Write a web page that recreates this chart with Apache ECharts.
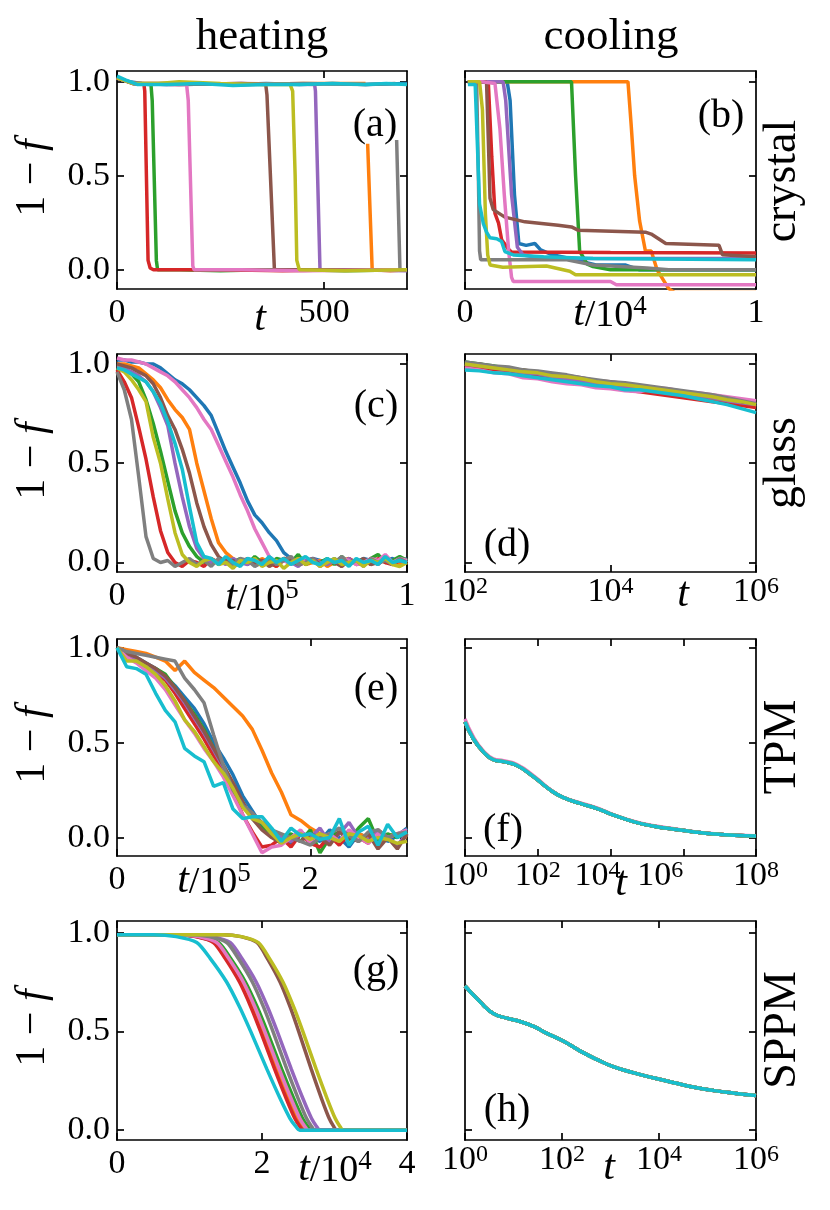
<!DOCTYPE html>
<html><head><meta charset="utf-8">
<script src="https://cdn.jsdelivr.net/npm/echarts@6/dist/echarts.min.js"></script>
<style>html,body{margin:0;padding:0;background:#fff}#c{width:830px;height:1210px}</style>
</head><body><div id="c"></div>
<script>
// ---------- tick labels ----------
const yTicks = [0, 0.5, 1];
const aXTicks = [0, 500];
const bXTicks = [0, 1];
const cXTicks = [0, 1];
const dXTicks = [1e2, 1e4, 1e6];
const eXTicks = [0, 2];
const fXTicks = [1, 1e2, 1e4, 1e6, 1e8];
const gXTicks = [0, 2, 4];
const hXTicks = [1, 1e2, 1e4, 1e6];

// ---------- (a) crystal heating: [t, 1-f] ----------
const aBlue = [[0,1.02],[30,1.0],[60,0.99],[120,0.985],[200,0.99],[280,0.985],[360,0.99],[440,0.985],[520,0.99],[600,0.985],[700,0.99]];
const aOrange = [[0,1.02],[40,0.99],[150,0.99],[300,0.985],[450,0.99],[600,0.99],[603,null],[605,0.67],[616,0.0],[660,-0.005],[700,0.0]];
const aGreen = [[0,1.02],[40,0.99],[82,0.985],[85,0.9],[95,0.05],[98,0.0],[150,0.0],[250,-0.005],[350,0.0],[450,0.0],[550,-0.005],[700,0.0]];
const aRed = [[0,1.02],[40,0.99],[65,0.985],[67,0.95],[75,0.05],[80,0.01],[88,0.0],[150,0.0],[250,0.0],[400,-0.005],[550,0.0],[700,0.0]];
const aPurple = [[0,1.02],[40,0.99],[150,0.985],[300,0.99],[477,0.985],[479,0.95],[490,0.0],[550,0.0],[700,-0.005]];
const aBrown = [[0,1.02],[40,0.99],[150,0.985],[300,0.99],[359,0.985],[362,0.93],[380,0.0],[500,0.0],[700,0.0]];
const aPink = [[0,1.02],[40,0.99],[120,0.985],[168,0.985],[172,0.9],[183,0.02],[186,0.0],[300,0.0],[450,-0.005],[700,0.0]];
const aGray = [[0,1.02],[40,0.99],[150,0.99],[300,0.985],[450,0.99],[600,0.985],[672,0.99],[673,null],[675,0.69],[683,0.0],[700,0.0]];
const aOlive = [[0,1.02],[40,0.99],[100,0.99],[150,1.0],[250,0.99],[350,0.985],[418,0.985],[424,0.95],[430,0.5],[434,0.05],[440,0.0],[550,-0.005],[700,0.0]];
const aCyan = [[0,1.03],[20,1.01],[50,0.985],[120,0.985],[200,0.99],[280,0.98],[360,0.985],[440,0.985],[520,0.99],[600,0.985],[650,0.99],[700,0.985]];

// ---------- (b) crystal cooling: [t/1e4, 1-f] ----------
const bBlue = [[0.01,1.0],[0.145,1.0],[0.155,0.9],[0.17,0.4],[0.185,0.14],[0.21,0.13],[0.24,0.14],[0.26,0.106],[0.3,0.08],[0.36,0.06],[0.4,0.045],[0.45,0.026],[0.55,0.026],[0.6,0.0],[1.0,0.0]];
const bOrange = [[0.01,1.0],[0.3,1.0],[0.45,1.0],[0.56,1.0],[0.571,0.77],[0.583,0.5],[0.6,0.26],[0.62,0.1],[0.64,0.1],[0.66,0.0],[0.7,-0.1],[0.72,-0.12],[1.0,-0.12]];
const bGreen = [[0.01,1.0],[0.2,1.0],[0.366,1.0],[0.38,0.5],[0.394,0.1],[0.42,0.03],[0.44,0.017],[0.5,0.0],[1.0,0.0]];
const bRed = [[0.01,1.0],[0.08,1.0],[0.092,0.6],[0.103,0.3],[0.115,0.25],[0.126,0.16],[0.149,0.11],[0.16,0.095],[0.5,0.092],[1.0,0.09]];
const bPurple = [[0.01,1.0],[0.131,1.0],[0.14,0.9],[0.16,0.4],[0.18,0.12],[0.2,0.079],[0.25,0.065],[0.4,0.06],[1.0,0.06]];
const bBrown = [[0.01,1.0],[0.074,1.0],[0.08,0.7],[0.086,0.38],[0.097,0.32],[0.137,0.28],[0.206,0.255],[0.32,0.237],[0.366,0.228],[0.39,0.21],[0.62,0.2],[0.64,0.19],[0.69,0.14],[0.873,0.13],[0.885,0.08],[1.0,0.07]];
const bPink = [[0.01,1.0],[0.06,1.0],[0.103,0.99],[0.12,0.75],[0.135,0.4],[0.15,0.1],[0.16,-0.04],[0.166,-0.062],[0.5,-0.062],[0.52,-0.079],[1.0,-0.079]];
const bGray = [[0.01,1.0],[0.04,1.0],[0.046,0.5],[0.05,0.1],[0.054,0.053],[0.35,0.053],[0.44,0.026],[0.625,0.01],[0.7,0.0],[1.0,0.0]];
const bOlive = [[0.01,1.0],[0.05,1.0],[0.06,0.85],[0.07,0.3],[0.078,0.08],[0.086,0.026],[0.13,0.014],[0.28,0.02],[0.36,-0.008],[0.38,-0.026],[1.0,-0.026]];
const bCyan = [[0.01,0.985],[0.035,0.985],[0.05,0.35],[0.063,0.245],[0.074,0.2],[0.086,0.17],[0.109,0.165],[0.126,0.15],[0.137,0.097],[0.166,0.079],[0.27,0.07],[0.44,0.06],[1.0,0.053]];

// ---------- (c) glass heating: t/1e5 grid and 1-f ----------
const cT = [0,0.025,0.05,0.075,0.1,0.125,0.15,0.175,0.2,0.225,0.25,0.275,0.3,0.325,0.35,0.375,0.4,0.425,0.45,0.475,0.5,0.525,0.55,0.575,0.6,0.625,0.65,0.675,0.7,0.725,0.75,0.775,0.8,0.825,0.85,0.875,0.9,0.925,0.95,0.975,1.0];
const cBlue = [1.02,1.02,1.01,1.01,1.0,1.0,0.98,0.95,0.92,0.9,0.87,0.83,0.79,0.74,0.65,0.56,0.48,0.4,0.31,0.24,0.2,0.15,0.11,0.05,0.02,0.01,0.0,0.02,0.01,0.0,0.02,-0.01,0.01,0.0,0.02,0.01,0.0,0.01,0.02,0.0,0.02];
const cOrange = [1.0,1.0,0.99,0.98,0.95,0.92,0.88,0.82,0.77,0.73,0.67,0.5,0.36,0.22,0.1,0.05,0.02,0.0,0.01,-0.01,0.02,0.0,-0.02,0.01,0.0,0.02,-0.01,0.0,0.01,-0.02,0.0,0.01,0.02,-0.01,0.0,0.01,-0.01,0.02,0.0,-0.01,0.01];
const cGreen = [0.98,0.97,0.95,0.91,0.82,0.70,0.56,0.41,0.26,0.15,0.08,0.03,0.0,0.02,-0.01,0.01,0.0,0.02,-0.01,0.03,0.0,-0.01,0.02,0.01,0.0,0.04,-0.01,0.01,0.0,0.02,-0.01,0.03,0.0,0.01,-0.01,0.02,0.04,0.0,0.01,0.03,0.01];
const cRed = [0.97,0.91,0.83,0.68,0.52,0.33,0.16,0.05,0.0,-0.02,0.01,0.0,-0.02,0.02,0.0,0.01,-0.02,0.0,0.02,-0.01,0.01,0.0,-0.02,0.02,0.01,-0.01,0.0,0.02,-0.01,0.0,0.01,-0.02,0.02,0.0,0.01,-0.01,0.02,0.0,-0.01,0.01,0.0];
const cPurple = [0.99,0.98,0.96,0.94,0.91,0.86,0.78,0.69,0.5,0.33,0.18,0.07,0.02,0.0,0.01,-0.01,0.02,0.0,-0.01,0.01,0.0,0.02,-0.01,0.01,0.0,-0.02,0.01,0.02,0.0,-0.01,0.01,0.0,0.02,-0.01,0.0,0.01,-0.01,0.02,0.0,0.01,0.0];
const cBrown = [1.0,0.99,0.98,0.96,0.94,0.9,0.83,0.74,0.67,0.57,0.45,0.3,0.18,0.09,0.03,0.0,0.01,-0.01,0.02,0.0,0.01,-0.02,0.0,0.02,0.01,-0.01,0.0,0.02,-0.01,0.01,0.0,-0.02,0.01,0.0,0.02,-0.01,0.0,0.01,-0.01,0.02,0.0];
const cPink = [1.03,1.02,1.02,1.01,1.0,0.98,0.96,0.94,0.91,0.87,0.83,0.78,0.72,0.67,0.59,0.51,0.43,0.34,0.26,0.17,0.1,0.03,0.0,0.01,-0.01,0.02,0.0,0.01,-0.02,0.01,0.0,0.02,0.01,-0.01,0.0,0.02,0.01,0.04,0.0,0.02,0.01];
const cGray = [0.96,0.87,0.72,0.43,0.13,0.02,0.0,0.01,-0.02,0.0,0.02,-0.01,0.01,-0.02,0.02,0.0,-0.01,0.02,0.01,-0.02,0.0,0.02,-0.01,0.01,0.03,-0.01,0.0,0.02,-0.02,0.01,0.0,0.03,-0.01,0.01,-0.02,0.02,0.0,0.01,-0.01,0.02,0.0];
const cOlive = [0.98,0.96,0.92,0.87,0.81,0.63,0.5,0.32,0.15,0.04,0.0,-0.02,0.01,0.02,-0.01,0.0,-0.03,0.01,0.0,0.02,-0.02,0.0,0.01,-0.03,0.0,0.02,-0.01,0.01,-0.02,0.0,0.02,-0.01,0.0,0.01,-0.02,0.01,0.0,0.02,-0.01,-0.02,0.0];
const cCyan = [0.98,0.97,0.95,0.93,0.91,0.86,0.8,0.71,0.6,0.47,0.28,0.1,0.03,0.02,-0.01,0.03,0.0,-0.02,0.02,0.01,-0.01,0.03,0.0,0.02,-0.01,0.01,0.03,0.0,-0.01,0.02,0.0,0.01,-0.02,0.02,0.0,0.01,-0.01,0.03,0.0,0.01,0.0];

// ---------- (d) glass cooling: t grid (log) and 1-f ----------
const dT = [100,158,251,398,631,1000,1585,2512,3981,6310,10000,15849,25119,39811,63096,100000,158489,251189,398107,630957,1000000];
const dBlue = [0.99,0.985,0.975,0.965,0.96,0.945,0.94,0.925,0.915,0.905,0.895,0.885,0.875,0.87,0.855,0.845,0.835,0.83,0.815,0.805,0.79];
const dOrange = [1.0,0.98,0.97,0.965,0.95,0.945,0.93,0.92,0.91,0.895,0.89,0.875,0.87,0.86,0.85,0.845,0.835,0.825,0.815,0.8,0.785];
const dGreen = [1.01,1.0,0.99,0.975,0.97,0.955,0.945,0.935,0.92,0.91,0.9,0.89,0.88,0.875,0.86,0.85,0.84,0.83,0.82,0.805,0.795];
const dRed = [0.99,0.98,0.97,0.96,0.95,0.94,0.925,0.915,0.905,0.89,0.88,0.87,0.86,0.85,0.84,0.83,0.82,0.81,0.8,0.79,0.78];
const dPurple = [1.0,0.99,0.98,0.97,0.955,0.95,0.935,0.925,0.915,0.905,0.895,0.885,0.875,0.865,0.855,0.845,0.84,0.83,0.815,0.805,0.795];
const dBrown = [1.0,1.0,0.985,0.975,0.97,0.96,0.95,0.94,0.93,0.915,0.91,0.9,0.89,0.88,0.87,0.86,0.85,0.84,0.825,0.81,0.8];
const dPink = [0.98,0.97,0.955,0.95,0.93,0.925,0.91,0.9,0.895,0.88,0.875,0.865,0.86,0.88,0.875,0.86,0.855,0.845,0.835,0.825,0.815];
const dGray = [1.01,1.0,0.99,0.985,0.97,0.965,0.955,0.945,0.93,0.92,0.91,0.905,0.895,0.885,0.875,0.865,0.855,0.845,0.83,0.815,0.8];
const dOlive = [1.0,0.99,0.98,0.97,0.96,0.955,0.94,0.935,0.925,0.91,0.9,0.895,0.885,0.875,0.865,0.855,0.845,0.835,0.82,0.81,0.795];
const dCyan = [0.97,0.965,0.955,0.95,0.94,0.93,0.92,0.91,0.9,0.89,0.885,0.87,0.87,0.86,0.85,0.84,0.825,0.81,0.795,0.775,0.755];

// ---------- (e) TPM heating: t/1e5 grid and 1-f ----------
const eT = [0,0.1,0.2,0.3,0.4,0.5,0.6,0.7,0.8,0.9,1.0,1.1,1.2,1.3,1.4,1.5,1.6,1.7,1.8,1.9,2.0,2.1,2.2,2.3,2.4,2.5,2.6,2.7,2.8,2.9,3.0];
const eBlue = [1.0,0.97,0.95,0.92,0.89,0.85,0.8,0.74,0.68,0.6,0.5,0.42,0.33,0.22,0.14,0.06,0.02,0.0,-0.03,0.03,0.0,-0.02,0.04,0.0,-0.05,0.02,0.0,0.04,-0.02,0.01,0.05];
const eOrange = [1.0,0.99,0.98,0.97,0.95,0.93,0.88,0.93,0.87,0.83,0.79,0.74,0.69,0.64,0.57,0.46,0.34,0.24,0.12,0.09,0.05,0.02,0.0,0.03,-0.01,0.02,0.0,-0.03,0.01,0.02,0.0];
const eGreen = [1.0,0.96,0.94,0.91,0.89,0.86,0.79,0.72,0.65,0.57,0.47,0.38,0.28,0.18,0.1,0.05,0.03,0.0,0.02,-0.02,0.04,-0.08,0.0,0.03,-0.01,0.05,0.1,-0.02,0.02,0.0,0.03];
const eRed = [1.0,0.96,0.93,0.9,0.87,0.83,0.76,0.68,0.6,0.52,0.43,0.34,0.24,0.12,0.03,-0.05,-0.04,0.0,-0.05,0.02,-0.03,-0.05,0.01,-0.04,0.02,0.0,-0.03,0.04,0.0,0.02,0.03];
const ePurple = [1.0,0.97,0.94,0.91,0.88,0.84,0.78,0.71,0.63,0.55,0.46,0.37,0.27,0.17,0.11,0.08,0.04,0.0,-0.02,0.02,0.0,0.05,-0.03,0.02,0.08,0.0,-0.01,0.03,0.0,-0.04,0.02];
const eBrown = [1.0,0.97,0.95,0.92,0.89,0.85,0.79,0.72,0.64,0.56,0.47,0.38,0.29,0.19,0.1,0.04,0.0,-0.03,0.0,-0.02,0.02,0.0,-0.04,0.03,0.0,-0.02,0.02,-0.06,0.0,-0.06,0.02];
const ePink = [1.0,0.95,0.92,0.88,0.84,0.78,0.7,0.62,0.55,0.47,0.4,0.32,0.22,0.12,0.02,-0.08,-0.05,-0.04,0.0,0.04,-0.03,0.0,0.02,-0.02,0.04,0.0,-0.03,0.02,0.0,0.02,0.04];
const eGray = [1.0,0.98,0.97,0.96,0.95,0.94,0.93,0.84,0.78,0.71,0.54,0.38,0.25,0.17,0.13,0.08,0.04,0.02,0.0,-0.02,-0.04,0.0,0.02,0.05,0.01,-0.02,0.03,0.04,0.0,0.02,0.03];
const eOlive = [1.0,0.93,0.93,0.9,0.86,0.8,0.72,0.62,0.56,0.48,0.4,0.34,0.26,0.16,0.1,0.08,0.02,-0.03,0.0,0.02,-0.01,0.02,0.0,-0.02,0.02,0.01,-0.02,0.0,-0.01,-0.03,-0.02];
const eCyan = [1.0,0.9,0.89,0.86,0.76,0.67,0.61,0.47,0.43,0.4,0.27,0.29,0.15,0.1,0.11,0.11,0.05,-0.02,0.05,0.01,0.02,-0.01,0.0,0.1,-0.04,0.03,0.06,-0.04,0.07,0.0,0.03];

// ---------- (f) TPM cooling: [t, 1-f] ----------
const fCurve = [[1,0.61],[1.7,0.52],[3.24,0.45],[6.03,0.41],[11.5,0.40],[26.9,0.38],[77.6,0.32],[224,0.25],[513,0.21],[1479,0.18],[4266,0.153],[12303,0.118],[44668,0.083],[158489,0.06],[562341,0.044],[1995262,0.03],[7079458,0.019],[25118864,0.012],[100000000,0.009]];
const fPink = [[1,0.625],[1.7,0.53],[3.24,0.455],[6.03,0.415],[11.5,0.405],[26.9,0.385],[77.6,0.325],[224,0.252],[513,0.212],[1479,0.183],[4266,0.156],[12303,0.12],[44668,0.085],[158489,0.062],[562341,0.046],[1995262,0.031],[7079458,0.02],[25118864,0.013],[100000000,0.01]];

// ---------- (g) SPPM heating: [t/1e4, 1-f] ----------
const gBlue = [[0,0.99],[0.817,0.99],[1.096,0.98],[1.35,0.95],[1.515,0.87],[1.718,0.75],[1.883,0.62],[2.015,0.5],[2.214,0.31],[2.379,0.16],[2.499,0.06],[2.569,0.02],[2.62,0.0],[4,0.0]];
const gOrange = [[0,0.99],[0.831,0.99],[1.108,0.98],[1.36,0.95],[1.524,0.87],[1.725,0.75],[1.889,0.62],[2.02,0.5],[2.217,0.31],[2.381,0.16],[2.5,0.06],[2.57,0.02],[2.62,0.0],[4,0.0]];
const gGreen = [[0,0.99],[0.862,0.99],[1.144,0.98],[1.40,0.95],[1.566,0.87],[1.771,0.75],[1.938,0.62],[2.071,0.5],[2.27,0.31],[2.437,0.16],[2.558,0.06],[2.629,0.02],[2.68,0.0],[4,0.0]];
const gRed = [[0,0.99],[0.809,0.99],[1.082,0.98],[1.33,0.95],[1.491,0.87],[1.69,0.75],[1.851,0.62],[1.98,0.5],[2.173,0.31],[2.334,0.16],[2.452,0.06],[2.52,0.02],[2.57,0.0],[4,0.0]];
const gPurple = [[0,0.99],[1.039,0.99],[1.312,0.98],[1.56,0.95],[1.721,0.87],[1.92,0.75],[2.081,0.62],[2.21,0.5],[2.403,0.31],[2.564,0.16],[2.682,0.06],[2.75,0.02],[2.80,0.0],[4,0.0]];
const gBrown = [[0,0.99],[1.468,0.99],[1.71,0.98],[1.93,0.95],[2.073,0.87],[2.249,0.75],[2.392,0.62],[2.506,0.5],[2.678,0.31],[2.821,0.16],[2.926,0.06],[2.986,0.02],[3.03,0.0],[4,0.0]];
const gPink = [[0,0.99],[0.845,0.99],[1.123,0.98],[1.376,0.95],[1.54,0.87],[1.743,0.75],[1.907,0.62],[2.038,0.5],[2.236,0.31],[2.4,0.16],[2.52,0.06],[2.589,0.02],[2.64,0.0],[4,0.0]];
const gGray = [[0,0.99],[1.003,0.99],[1.271,0.98],[1.514,0.95],[1.672,0.87],[1.867,0.75],[2.025,0.62],[2.151,0.5],[2.341,0.31],[2.499,0.16],[2.614,0.06],[2.681,0.02],[2.73,0.0],[4,0.0]];
const gOlive = [[0,0.99],[1.459,0.99],[1.716,0.98],[1.95,0.95],[2.102,0.87],[2.289,0.75],[2.441,0.62],[2.563,0.5],[2.746,0.31],[2.898,0.16],[3.009,0.06],[3.073,0.02],[3.12,0.0],[4,0.0]];
const gCyan = [[0,0.99],[0.504,0.99],[0.816,0.98],[1.10,0.95],[1.285,0.87],[1.512,0.75],[1.696,0.62],[1.844,0.5],[2.066,0.31],[2.25,0.16],[2.385,0.06],[2.463,0.02],[2.52,0.0],[4,0.0]];

// ---------- (h) SPPM cooling: [t, 1-f] (all runs coincide) ----------
const hCurve = [[1,0.73],[2.04,0.65],[3.85,0.59],[7.28,0.567],[13.7,0.55],[25.9,0.525],[49,0.49],[108,0.45],[239,0.40],[530,0.357],[1172,0.32],[3041,0.29],[7889,0.264],[20417,0.24],[52966,0.217],[137404,0.2],[356451,0.187],[1000000,0.175]];

// ---------- build ----------
const COLORS = ['#1f77b4','#ff7f0e','#2ca02c','#d62728','#9467bd','#8c564b','#e377c2','#7f7f7f','#bcbd22','#17becf'];
const FONT = "'Liberation Serif','Times New Roman',serif";
const zip = (xs, ys) => xs.map((x, i) => [x, ys[i]]);

const panels = [
  {grid:{left:117,top:71,width:290,height:218}, type:'value', min:0, max:700, ticks:aXTicks, yMin:-0.102, yMax:1.057, left:true,
   data:[aBlue,aOrange,aGreen,aRed,aPurple,aBrown,aPink,aGray,aOlive,aCyan]},
  {grid:{left:465,top:71,width:291,height:218}, type:'value', min:0, max:1, ticks:bXTicks, yMin:-0.102, yMax:1.057, left:false,
   data:[bBlue,bOrange,bGreen,bRed,bPurple,bBrown,bPink,bGray,bOlive,bCyan]},
  {grid:{left:117,top:354,width:290,height:218}, type:'value', min:0, max:1, ticks:cXTicks, yMin:-0.048, yMax:1.05, left:true,
   data:[cBlue,cOrange,cGreen,cRed,cPurple,cBrown,cPink,cGray,cOlive,cCyan].map(v => zip(cT, v))},
  {grid:{left:465,top:354,width:291,height:218}, type:'log', min:1e2, max:1e6, ticks:dXTicks, yMin:-0.048, yMax:1.05, left:false,
   data:[dBlue,dOrange,dGreen,dRed,dPurple,dBrown,dPink,dGray,dOlive,dCyan].map(v => zip(dT, v))},
  {grid:{left:117,top:639,width:290,height:217}, type:'value', min:0, max:3, ticks:eXTicks, yMin:-0.097, yMax:1.046, left:true,
   data:[eBlue,eOrange,eGreen,eRed,ePurple,eBrown,ePink,eGray,eOlive,eCyan].map(v => zip(eT, v))},
  {grid:{left:465,top:639,width:291,height:217}, type:'log', min:1, max:1e8, ticks:fXTicks, yMin:-0.097, yMax:1.046, left:false, smooth:true, shiftLabels:true,
   data:[fCurve,fCurve,fCurve,fCurve,fCurve,fCurve,fPink,fCurve,fCurve,fCurve]},
  {grid:{left:117,top:921,width:290,height:219}, type:'value', min:0, max:4, ticks:gXTicks, yMin:-0.05, yMax:1.059, left:true, smooth:0.25,
   data:[gBlue,gOrange,gGreen,gRed,gPurple,gBrown,gPink,gGray,gOlive,gCyan]},
  {grid:{left:465,top:921,width:291,height:219}, type:'log', min:1, max:1e6, ticks:hXTicks, yMin:-0.05, yMax:1.059, left:false, smooth:true,
   data:[hCurve,hCurve,hCurve,hCurve,hCurve,hCurve,hCurve,hCurve,hCurve,hCurve]}
];

const TICKFS = 34;
const lineSty = {show:true, lineStyle:{color:'#000', width:1.7}, onZero:false};
const tickSty = (vals) => ({show:true, inside:true, length:7, customValues:vals, lineStyle:{color:'#000', width:1.7}});
const richLog = {
  b:{fontSize:TICKFS, fontFamily:FONT, color:'#000', lineHeight:34, verticalAlign:'bottom'},
  s:{fontSize:24, fontFamily:FONT, color:'#000', lineHeight:24, verticalAlign:'top', padding:[0,0,16,0]},
  p:{fontSize:TICKFS, fontFamily:FONT, color:'rgba(0,0,0,0)', width:26, lineHeight:34, verticalAlign:'bottom'},
  q:{fontSize:TICKFS, fontFamily:FONT, color:'rgba(0,0,0,0)', width:46, lineHeight:34, verticalAlign:'bottom'}
};
const logFmt = v => '{b|10}{s|' + Math.round(Math.log10(v)) + '}';
// panel (f): the 10^4 and 10^6 labels sit left of their ticks, leaving room for "t"
const logFmtF = v => {
  const e = Math.round(Math.log10(v));
  const pad = e === 4 ? '{p|.}' : (e === 6 ? '{q|.}' : '');
  return '{b|10}{s|' + e + '}' + pad;
};

const grid = [], xAxis = [], yAxis = [], series = [];
panels.forEach((p, i) => {
  grid.push(Object.assign({containLabel:false, outerBoundsMode:'none'}, p.grid));
  const isLog = p.type === 'log';
  const base = {gridIndex:i, type:p.type, min:p.min, max:p.max, splitLine:{show:false}, axisLine:lineSty};
  if (isLog) base.logBase = 10;
  xAxis.push(Object.assign({}, base, {
    position:'bottom',
    axisTick:tickSty(p.ticks),
    axisLabel:{show:true, customValues:p.ticks, margin:isLog?3:7, color:'#000', fontFamily:FONT, fontSize:TICKFS,
      formatter: isLog ? (p.shiftLabels ? logFmtF : logFmt) : (v => String(v)), rich: isLog ? richLog : undefined}
  }));
  xAxis.push(Object.assign({}, base, {
    position:'top', axisTick:tickSty(p.ticks), axisLabel:{show:false}
  }));
  const ybase = {gridIndex:i, type:'value', min:p.yMin, max:p.yMax, splitLine:{show:false}, axisLine:lineSty, axisTick:tickSty(yTicks)};
  yAxis.push(Object.assign({}, ybase, {
    position:'left',
    axisLabel:{show:p.left, customValues:yTicks, margin:7, color:'#000', fontFamily:FONT, fontSize:TICKFS, formatter:v => v.toFixed(1)}
  }));
  yAxis.push(Object.assign({}, ybase, {position:'right', axisLabel:{show:false}}));
  p.data.forEach((d, k) => {
    series.push({
      type:'line', xAxisIndex:2*i, yAxisIndex:2*i, data:d, showSymbol:false, symbol:'none',
      smooth:p.smooth || false, connectNulls:false, clip:true, silent:true,
      lineStyle:{color:COLORS[k], width:3.5}, itemStyle:{color:COLORS[k]}, z:2
    });
  });
});

// ---------- text ----------
const txt = (text, x, y, size, rot, rich) => ({
  type:'text', x:x, y:y, rotation:rot || 0, silent:true,
  style:{text:text, fontSize:size, fontFamily:FONT, fill:'#000',
    align:'center', verticalAlign:'middle', textAlign:'center', textVerticalAlign:'middle', rich:rich}
});
const richX = {
  i:{fontSize:42, fontFamily:FONT, fontStyle:'italic', color:'#000', lineHeight:42, verticalAlign:'bottom'},
  n:{fontSize:38, fontFamily:FONT, color:'#000', lineHeight:42, verticalAlign:'bottom'},
  s:{fontSize:27, fontFamily:FONT, color:'#000', lineHeight:27, verticalAlign:'top', padding:[0,0,18,0]}
};
const richY = {
  n:{fontSize:42, fontFamily:FONT, color:'#000'},
  i:{fontSize:42, fontFamily:FONT, fontStyle:'italic', color:'#000'}
};
const graphic = [
  txt('heating', 262, 37, 45),
  txt('cooling', 611, 37, 45),
  txt('crystal', 783, 181, 46, Math.PI/2),
  txt('glass', 783, 463, 46, Math.PI/2),
  txt('TPM', 783, 747, 46, Math.PI/2),
  txt('SPPM', 783, 1030, 46, Math.PI/2),
  txt('{n|1 − }{i|f}', 33, 178, 42, Math.PI/2, richY),
  txt('{n|1 − }{i|f}', 33, 461, 42, Math.PI/2, richY),
  txt('{n|1 − }{i|f}', 33, 745, 42, Math.PI/2, richY),
  txt('{n|1 − }{i|f}', 33, 1028, 42, Math.PI/2, richY),
  txt('(a)', 375, 125, 40),
  txt('(b)', 721, 116, 40),
  txt('(c)', 376, 406, 40),
  txt('(d)', 507, 545, 40),
  txt('(e)', 376, 689, 40),
  txt('(f)', 503, 830, 40),
  txt('(g)', 376, 971, 40),
  txt('(h)', 507, 1110, 40),
  txt('{i|t}', 260, 319, 42, 0, richX),
  txt('{i|t}{n|/10}{s|4}', 610, 314, 42, 0, richX),
  txt('{i|t}{n|/10}{s|5}', 262, 598, 42, 0, richX),
  txt('{i|t}', 683, 595, 42, 0, richX),
  txt('{i|t}{n|/10}{s|5}', 214, 881, 42, 0, richX),
  txt('{i|t}', 621, 884, 42, 0, richX),
  txt('{i|t}{n|/10}{s|4}', 335, 1169, 42, 0, richX),
  txt('{i|t}', 609, 1168, 42, 0, richX)
];

const chart = echarts.init(document.getElementById('c'), null, {renderer:'canvas'});
chart.setOption({
  backgroundColor:'#fff', animation:false,
  grid:grid, xAxis:xAxis, yAxis:yAxis, series:series, graphic:graphic
});
</script></body></html>
